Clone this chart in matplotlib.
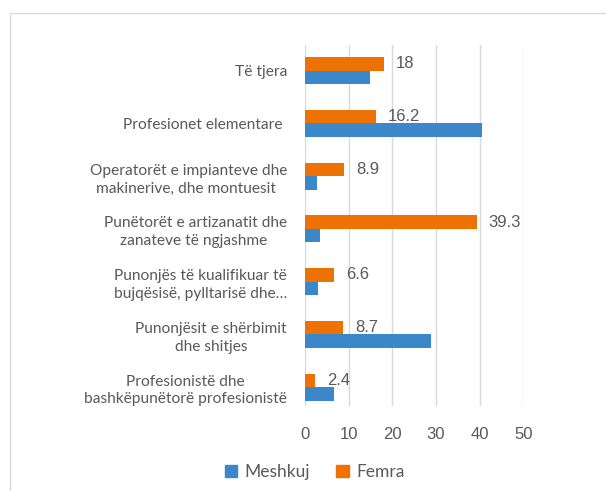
import numpy as np
import matplotlib
matplotlib.use("Agg")
import matplotlib.pyplot as plt
from matplotlib.patches import Rectangle, Patch

# categories listed bottom -> top
categories = [
    "Profesionistë dhe\nbashkëpunëtorë profesionistë",
    "Punonjësit e shërbimit\ndhe shitjes",
    "Punonjës të kualifikuar të\nbujqësisë, pylltarisë dhe…",
    "Punëtorët e artizanatit dhe\nzanateve të ngjashme ",
    "Operatorët e impianteve dhe\nmakinerive, dhe montuesit ",
    "Profesionet elementare ",
    "Të tjera",
]
meshkuj = [6.6, 28.8, 2.9, 3.5, 2.7, 40.5, 14.9]
femra = [2.4, 8.7, 6.6, 39.3, 8.9, 16.2, 18.0]
femra_labels = ["2.4", "8.7", "6.6", "39.3", "8.9", "16.2", "18"]
xticks = [0, 10, 20, 30, 40, 50]

blue = "#3A87C9"
orange = "#EE7104"
grey_txt = "#595959"

W, H = 606, 491
fig = plt.figure(figsize=(W / 100, H / 100), dpi=100)

# outer chart frame (cut off at right/bottom like the screenshot)
fig.patches.append(Rectangle((10 / W, -0.1), 1.2, 1.1 - 13 / H,
                             transform=fig.transFigure, fill=False,
                             edgecolor="#DADADA", linewidth=1.0))

ax = fig.add_axes([305 / W, 1 - 405.7 / H, (523.3 - 305) / W, (405.7 - 45) / H])

y = np.arange(len(categories))
h = 0.256
ax.barh(y - h / 2, meshkuj, height=h, color=blue, label="Meshkuj", zorder=3)
ax.barh(y + h / 2, femra, height=h, color=orange, label="Femra", zorder=3)

for yi, v, lab in zip(y, femra, femra_labels):
    ax.text(v + 12 * 50 / 218.3, yi + h / 2, lab, ha="left", va="center",
            fontsize=12, color=grey_txt, family="Liberation Sans")

ax.set_xlim(0, 50)
ax.set_ylim(-0.354, 6.487)
ax.set_xticks(xticks)
ax.set_xticklabels([str(t) for t in xticks], family="Liberation Sans",
                   fontsize=12, color=grey_txt)
ax.set_yticks(y)
ax.set_yticklabels(categories, family="Lato", fontsize=11.2, color=grey_txt,
                   multialignment="center", linespacing=1.35)
ax.tick_params(axis="both", length=0)
ax.tick_params(axis="x", pad=15.5)
ax.tick_params(axis="y", pad=13)
ax.grid(axis="x", color="#D9D9D9", linewidth=1.0, zorder=0)
for s in ax.spines.values():
    s.set_visible(False)

handles = [Patch(color=blue), Patch(color=orange)]
fig.legend(handles, ["Meshkuj", "Femra"], loc="center",
           bbox_to_anchor=(314.5 / W, 1 - 472 / H), ncol=2, frameon=False,
           prop={"family": "Lato", "size": 12.5},
           labelcolor=grey_txt, handlelength=0.72, handleheight=0.72,
           handletextpad=0.42, columnspacing=1.5)

fig.savefig("out.png", dpi=100)
